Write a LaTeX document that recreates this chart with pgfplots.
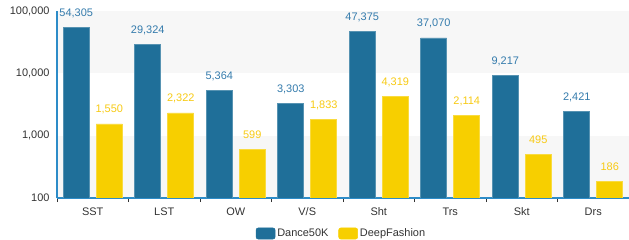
\documentclass[border=0pt]{standalone}
\usepackage{fontspec}
\setmainfont{Liberation Sans}
\usepackage{pgfplots}
\pgfplotsset{compat=1.18}
\definecolor{dblue}{RGB}{31,111,153}
\definecolor{dyel}{RGB}{247,207,0}
\definecolor{lblue}{RGB}{52,123,172}
\definecolor{lyel}{RGB}{247,202,20}
\definecolor{axblue}{RGB}{45,140,200}
\definecolor{band}{RGB}{247,247,247}
\definecolor{txt}{RGB}{51,51,51}
\begin{document}
\begin{tikzpicture}
\begin{axis}[
  set layers,
  at={(0,0)}, anchor=south west,
  scale only axis, width=572bp, height=187bp,
  ymode=log, log origin=infty,
  ymin=100, ymax=100000,
  xmin=-0.5, xmax=7.5,
  axis lines=left,
  axis line style={-, axblue, line width=1.4bp},
  xtick={0,...,7},
  xticklabels={SST,LST,OW,V/S,Sht,Trs,Skt,Drs},
  minor xtick={-0.5,0.5,...,7.5},
  yminorticks=false,
  major tick length=0pt,
  minor tick length=4bp,
  tick align=outside,
  minor tick style={txt, line width=0.8bp},
  ytick={100,1000,10000,100000},
  yticklabels={100,{1,000},{10,000},{100,000}},
  ticklabel style={font=\fontsize{11}{13}\selectfont, text=txt},
  y tick label style={xshift=-4bp},
  x tick label style={yshift=-6bp},
  /pgf/number format/.cd, assume math mode=true, 1000 sep={,}, /pgfplots/.cd,
  ybar, bar width=26bp,
  point meta=explicit,
  nodes near coords={\pgfmathprintnumber{\pgfplotspointmeta}},
  every node near coord/.append style={font=\fontsize{11}{13}\selectfont, anchor=base, yshift=11bp},
  legend columns=2,
  legend style={draw=none, fill=none, at={(0.5,0)}, anchor=center, yshift=-35.5bp, xshift=-1.5bp,
    font=\fontsize{11}{13}\selectfont, text=txt, inner sep=0pt,
    /tikz/every even column/.append style={column sep=8bp}},
]
\pgfonlayer{axis background}
\fill[band] (axis cs:-0.5,10000) rectangle (axis cs:7.5,100000);
\fill[band] (axis cs:-0.5,100) rectangle (axis cs:7.5,1000);
\endpgfonlayer
\addplot[fill=dblue, draw=dblue!75!white, line width=0.5bp, bar shift=-16.5bp,
  nodes near coords style={text=lblue},
  legend image code/.code={\fill[dblue, rounded corners=2bp] (0bp,-5.5bp) rectangle (19bp,5.5bp);}]
  coordinates {(0,54305)[54305] (1,29324)[29324] (2,5364)[5364] (3,3303)[3303]
               (4,47375)[47375] (5,37070)[37070] (6,9217)[9217] (7,2421)[2421]};
\addlegendentry{Dance50K}
\addplot[fill=dyel, draw=dyel!75!white, line width=0.5bp, bar shift=16.5bp,
  nodes near coords style={text=lyel},
  legend image code/.code={\fill[dyel, rounded corners=2bp] (0bp,-5.5bp) rectangle (19bp,5.5bp);}]
  coordinates {(0,1550)[1550] (1,2322)[2322] (2,599)[599] (3,1833)[1833]
               (4,4319)[4319] (5,2114)[2114] (6,495)[495] (7,186)[186]};
\addlegendentry{DeepFashion}
\end{axis}
\pgfresetboundingbox
\path (-57bp,-42bp) rectangle (572bp,198bp);
\end{tikzpicture}
\end{document}
